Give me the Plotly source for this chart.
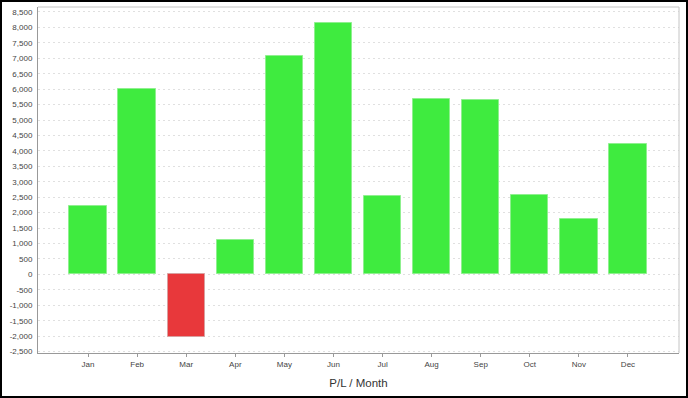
import plotly.graph_objects as go

months = ["Jan", "Feb", "Mar", "Apr", "May", "Jun", "Jul", "Aug", "Sep", "Oct", "Nov", "Dec"]
pl_values = [2200, 6000, -2020, 1120, 7065, 8150, 2540, 5690, 5650, 2560, 1810, 4220]
y_tick_values = list(range(-2500, 9000, 500))
y_tick_labels = [f"{v:,}" for v in y_tick_values]

GREEN = "#3FEB3F"
RED = "#E8383B"
colors = [GREEN if v >= 0 else RED for v in pl_values]
line_colors = ["#8FF08F" if v >= 0 else "#D9A0A0" for v in pl_values]

fig = go.Figure(
    go.Bar(
        x=list(range(len(months))),
        y=pl_values,
        width=0.76,
        marker=dict(color=colors, line=dict(color=line_colors, width=1)),
        hoverinfo="x+y",
    )
)

W, H = 688, 398
L, R, T, B = 38, 9, 7, 45
pw, ph = W - L - R, H - T - B

fig.update_layout(
    width=W,
    height=H,
    margin=dict(l=L, r=R, t=T, b=B),
    paper_bgcolor="white",
    plot_bgcolor="white",
    showlegend=False,
    bargap=0,
    font=dict(family="Liberation Sans, Arial, sans-serif", color="#444444"),
    shapes=[
        # outer black frame
        dict(type="rect", xref="paper", yref="paper",
             x0=(1 - L) / pw, x1=(W - 1 - L) / pw,
             y0=(H - B - (H - 1)) / ph, y1=(H - B - 1) / ph,
             line=dict(color="black", width=2), fillcolor="rgba(0,0,0,0)", layer="above"),
        # light top/right frame of plot area
        dict(type="line", xref="paper", yref="paper", x0=0, x1=1, y0=1, y1=1,
             line=dict(color="#C4C4C4", width=1)),
        dict(type="line", xref="paper", yref="paper", x0=1, x1=1, y0=0, y1=1,
             line=dict(color="#C4C4C4", width=1)),
    ],
)

fig.update_xaxes(
    range=[-1.02, 12.04],
    tickmode="array",
    tickvals=list(range(len(months))),
    ticktext=months,
    ticks="outside",
    ticklen=3,
    tickcolor="#999999",
    tickfont=dict(size=8, color="#444444"),
    showgrid=False,
    showline=True,
    linecolor="#999999",
    linewidth=1,
    zeroline=False,
    title=dict(text="P/L / Month", font=dict(size=11.5, color="#333333"), standoff=11),
)

fig.update_yaxes(
    range=[-2545, 8660],
    tickmode="array",
    tickvals=y_tick_values,
    ticktext=y_tick_labels,
    ticks="outside",
    ticklen=3,
    tickcolor="rgba(0,0,0,0)",
    tickfont=dict(size=8, color="#444444"),
    showgrid=True,
    gridcolor="#E0E0E0",
    griddash="2px,3px",
    gridwidth=1,
    showline=True,
    linecolor="#999999",
    linewidth=1,
    zeroline=False,
)

fig.write_html(
    "out.html",
    config={"displayModeBar": False},
    post_script="document.body.style.margin='0';document.body.style.overflow='hidden';",
)
